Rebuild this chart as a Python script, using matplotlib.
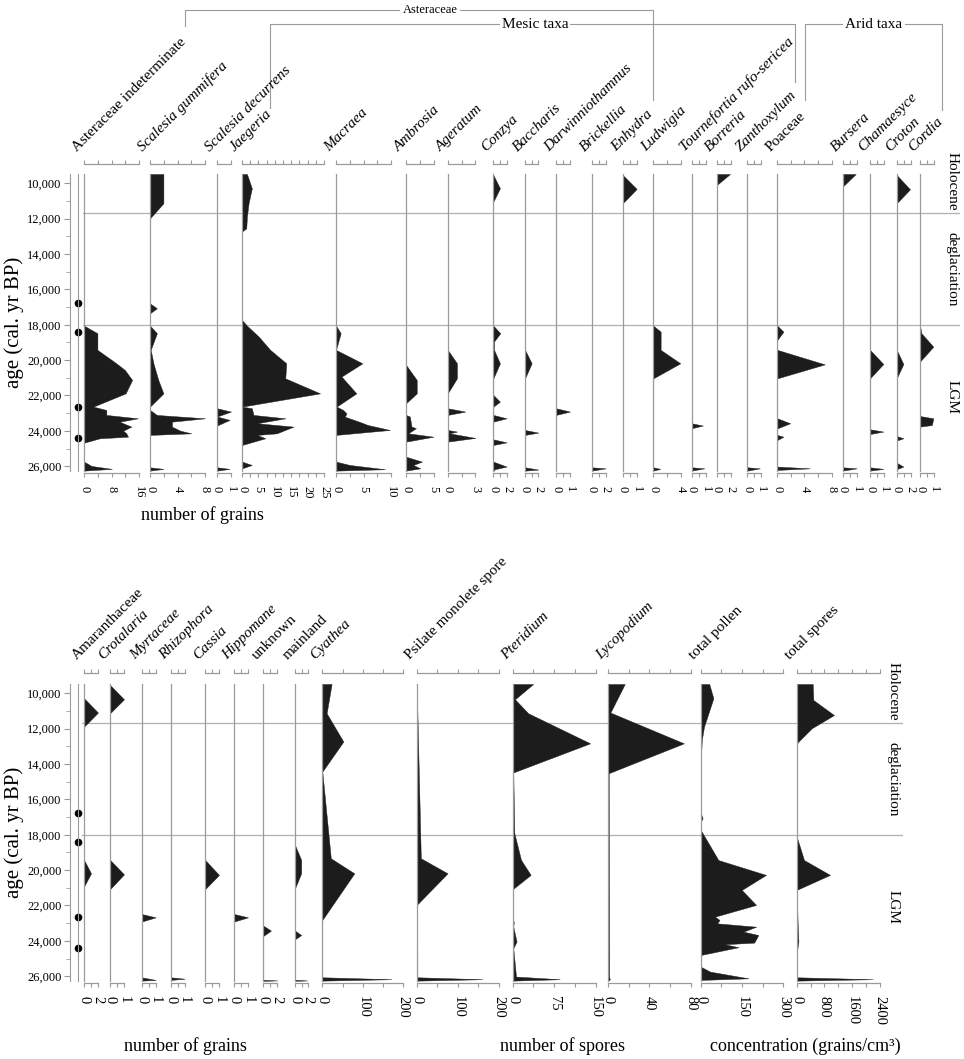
import matplotlib
matplotlib.use('Agg')
import matplotlib.pyplot as plt
import numpy as np

plt.rcParams['font.family'] = ['Liberation Serif', 'DejaVu Serif']

W, H = 964, 1059
fig = plt.figure(figsize=(W / 100, H / 100), dpi=100)

FILL = '#1c1c1c'
GRAY = '#9a9a9a'


def px(x, y, w, h):
    return [x / W, 1 - (y + h) / H, w / W, h / H]


# ---------------- data ----------------
AGE_TOP, AGE_BOT = 9475, 26270
zone_bounds = [11700, 18000]
zone_names = ['Holocene', 'deglaciation', 'LGM']
zone_label_ages = [9900, 14850, 22100]
dated_ages = [16780, 18420, 22630, 24400]
age_ticks = list(range(10000, 26001, 2000))
age_minor = list(range(9000, 26001, 1000))

# top panel taxa (age, count)
aster_indet = [(18050, 0), (18480, 3.9), (19420, 3.9), (20180, 9.4), (20560, 11.9), (21120, 14.0),
               (21880, 12.1), (22630, 2.7), (22820, 6.5), (23100, 6.5), (23290, 15.7), (23480, 10.4),
               (23570, 11.4), (23760, 13.8), (23990, 11.4), (24140, 12.3), (24330, 12.8), (24420, 4.6),
               (24670, 0), (25740, 0), (25985, 2.2), (26150, 8.1), (26250, 0)]
scalesia_gum = [(9475, 1.95), (11130, 1.95), (11980, 0), (16790, 0), (17070, 1.0), (17350, 0),
                (18050, 0), (18480, 1.0), (19420, 0.1), (20180, 0.5), (21120, 1.2), (21880, 1.95),
                (22630, 0), (22820, 0), (23100, 1.0), (23290, 8.0), (23480, 3.2), (23760, 3.2),
                (23990, 4.4), (24140, 6.0), (24230, 0), (26060, 0), (26150, 1.95), (26250, 0)]
scalesia_dec = [(22720, 0), (22910, 1.0), (23190, 0), (23380, 0.9), (23700, 0), (26060, 0),
                (26150, 0.9), (26250, 0)]
jaegeria = [(9475, 1.5), (10280, 3.0), (11130, 2.0), (11880, 1.5), (12550, 1.3), (12730, 0),
            (17730, 0), (18050, 1.5), (18670, 5.1), (19420, 8.6), (20180, 13.5), (21030, 13.2),
            (21880, 23.8), (22630, 0), (22720, 3.0), (23100, 3.5), (23290, 13.2), (23570, 4.6),
            (23760, 15.7), (24140, 10.6), (24230, 4.6), (24420, 7.1), (24800, 0), (25740, 0),
            (25930, 3.0), (26120, 0)]
macraea = [(18050, 0), (18480, 0.85), (19420, 0), (20180, 4.8), (20930, 1.0), (21880, 3.7),
           (22630, 0.1), (22820, 1.3), (23010, 1.9), (23200, 1.6), (23480, 4.2), (23670, 5.8),
           (23950, 9.8), (24230, 0), (25740, 0), (25930, 2.5), (26170, 8.9), (26250, 0)]
ambrosia = [(20270, 0), (21120, 1.95), (21880, 1.95), (22440, 0), (23100, 0), (23190, 0.7),
            (23760, 1.0), (23850, 1.8), (24140, 0.4), (24330, 5.0), (24610, 0), (25460, 0),
            (25740, 2.9), (25930, 1.3), (26120, 2.6), (26250, 0)]
ageratum = [(19420, 0), (20180, 1.0), (21030, 1.0), (21880, 0), (22720, 0), (22910, 1.9),
            (23100, 0), (23950, 0), (24040, 1.0), (24140, 0.2), (24400, 3.0), (24610, 0)]
conzya = [(9530, 0), (10280, 0.95), (11040, 0), (18050, 0), (18480, 1.0), (18950, 0.1),
          (19420, 0.1), (20180, 0.95), (21030, 0), (21970, 0), (22350, 0.95), (22630, 0),
          (23100, 0), (23290, 1.9), (23480, 0), (24480, 0), (24650, 1.9), (24800, 0),
          (25740, 0), (26020, 1.9), (26170, 0.2), (26250, 0)]
baccharis = [(19420, 0), (20180, 1.0), (21030, 0), (23950, 0), (24100, 2.0), (24230, 0),
             (26060, 0), (26190, 2.0), (26250, 0)]
darwiniothamnus = [(22720, 0), (22910, 1.0), (23100, 0)]
brickellia = [(26060, 0), (26120, 2.0), (26250, 0)]
enhydra = [(9530, 0), (10320, 0.95), (11130, 0)]
ludwigia = [(18050, 0), (18390, 1.06), (19420, 1.06), (20180, 3.9), (21030, 0), (26060, 0),
            (26150, 1.0), (26250, 0)]
tournefortia = [(23570, 0), (23700, 0.8), (23850, 0), (26060, 0), (26120, 0.9), (26250, 0)]
borreria = [(9475, 1.9), (10100, 0)]
zanthoxylum = [(26060, 0), (26120, 0.95), (26250, 0)]
poaceae = [(18050, 0), (18390, 0.9), (18860, 0), (19420, 0), (20240, 7.0), (21030, 0),
           (23290, 0), (23570, 1.9), (23860, 0), (24230, 0), (24330, 0.9), (24520, 0),
           (26020, 0), (26120, 4.8), (26210, 0)]
bursera = [(9475, 0.93), (10190, 0), (26060, 0), (26120, 1.0), (26250, 0)]
chamaesyce = [(19420, 0), (20220, 0.95), (21030, 0), (23910, 0), (24040, 0.95), (24180, 0),
              (26060, 0), (26150, 0.95), (26250, 0)]
croton = [(9530, 0), (10340, 1.9), (11130, 0), (19420, 0), (20220, 0.95), (21030, 0),
          (24290, 0), (24420, 0.95), (24550, 0), (25800, 0), (26020, 0.95), (26170, 0)]
cordia = [(18050, 0), (18480, 0.1), (19240, 0.95), (20080, 0), (23160, 0), (23290, 0.95),
          (23670, 0.85), (23760, 0)]

# bottom panel taxa (age, value)
amaranthaceae = [(10280, 0), (11090, 2.0), (11890, 0), (19420, 0), (20180, 1.0), (20930, 0)]
crotalaria = [(9530, 0), (10340, 1.0), (11130, 0), (19420, 0), (20240, 1.0), (21080, 0)]
myrtaceae = [(22480, 0), (22670, 1.0), (22910, 0), (26060, 0), (26210, 1.0), (26250, 0)]
rhizophora = [(26060, 0), (26140, 1.0), (26210, 0)]
cassia = [(19420, 0), (20270, 1.0), (21080, 0)]
hippomane = [(22480, 0), (22670, 1.0), (22910, 0)]
unknown = [(23140, 0), (23420, 1.1), (23720, 0), (26200, 0), (26240, 2.0), (26260, 0)]
mainland = [(18580, 0), (19420, 0.95), (20180, 0.95), (21030, 0), (23420, 0), (23670, 0.95),
            (23910, 0), (26200, 0), (26240, 1.9), (26260, 0)]
cyathea = [(9475, 23), (11130, 10.7), (12730, 52), (14430, 0), (19330, 21), (20180, 79),
           (22820, 0), (26060, 0), (26170, 171), (26250, 0)]
psilate = [(9475, 0), (19330, 10), (20180, 75), (21970, 0), (23900, 0), (24500, 1.5),
           (26060, 1.5), (26170, 160), (26250, 0)]
pteridium = [(9475, 37), (10340, 4), (11130, 28), (12830, 140), (14490, 0), (14500, 1),
             (17920, 3), (19420, 15), (20270, 32.5), (21080, 0), (22820, 0), (22910, 2),
             (23200, 1), (24040, 7), (24420, 1), (26020, 6), (26170, 85), (26250, 0)]
lycopodium = [(9475, 16), (11090, 2.0), (12830, 73.5), (14520, 0.4), (26020, 0.8),
              (26170, 1.5), (26250, 0)]
total_pollen = [(9475, 31), (10280, 46), (11130, 28), (11890, 12), (12640, 4), (13770, 0.5),
                (16790, 0.5), (17070, 7), (17260, 0), (17730, 0), (19430, 64), (20270, 237),
                (21120, 149), (21970, 201), (22630, 52), (22820, 68), (23010, 60), (23200, 201),
                (23480, 155), (23670, 209), (24100, 194), (24190, 88), (24360, 137), (24800, 0),
                (25460, 0), (25740, 34), (26120, 173), (26210, 0)]
total_spores = [(9475, 461), (10380, 480), (11230, 1075), (11980, 432), (12830, 0), (18110, 0),
                (19430, 211), (20270, 960), (21120, 0), (23200, 30), (24040, 50), (24420, 20),
                (24800, 0), (26060, 0), (26170, 2190), (26250, 0)]

# column layout: name, italic, data, x0(px), width(px), xmax, tick step, labelled ticks
top_cols = [
    ('Asteraceae indeterminate', False, aster_indet, 84, 55, 16, 4, [0, 8, 16]),
    ('Scalesia gummifera', True, scalesia_gum, 150, 55, 8, 2, [0, 4, 8]),
    ('Scalesia decurrens', True, scalesia_dec, 217, 14, 1, 1, [0, 1]),
    ('Jaegeria', True, jaegeria, 242, 82, 25, 2.5, [0, 5, 10, 15, 20, 25]),
    ('Macraea', True, macraea, 336, 55, 10, 2.5, [0, 5, 10]),
    ('Ambrosia', True, ambrosia, 406, 27.5, 5, 2.5, [0, 5]),
    ('Ageratum', True, ageratum, 447.7, 27.7, 3, 1.5, [0, 3]),
    ('Conzya', True, conzya, 493.3, 14, 2, 1, [0, 2]),
    ('Baccharis', True, baccharis, 525, 13.3, 2, 1, [0, 2]),
    ('Darwinniothamnus', True, darwiniothamnus, 556, 14, 1, 0.5, [0, 1]),
    ('Brickellia', True, brickellia, 591.7, 14, 2, 1, [0, 2]),
    ('Enhydra', True, enhydra, 622.7, 14.7, 1, 0.5, [0, 1]),
    ('Ludwigia', True, ludwigia, 653.3, 27.7, 4, 2, [0, 4]),
    ('Tournefortia rufo-sericea', True, tournefortia, 691.7, 14, 1, 0.5, [0, 1]),
    ('Borreria', True, borreria, 716.7, 14, 2, 1, [0, 2]),
    ('Zanthoxylum', True, zanthoxylum, 747.3, 13.3, 1, 0.5, [0, 1]),
    ('Poaceae', False, poaceae, 777.3, 54.3, 8, 2, [0, 4, 8]),
    ('Bursera', True, bursera, 842.7, 14, 1, 0.5, [0, 1]),
    ('Chamaesyce', True, chamaesyce, 870, 14, 1, 0.5, [0, 1]),
    ('Croton', True, croton, 896.7, 14, 2, 1, [0, 2]),
    ('Cordia', True, cordia, 920, 14, 1, 0.5, [0, 1]),
]
bottom_cols = [
    ('Amaranthaceae', False, amaranthaceae, 84, 14, 2, 1, [0, 2]),
    ('Crotalaria', True, crotalaria, 110, 14, 1, 0.5, [0, 1]),
    ('Myrtaceae', True, myrtaceae, 141.7, 14, 1, 0.5, [0, 1]),
    ('Rhizophora', True, rhizophora, 170.7, 14, 1, 0.5, [0, 1]),
    ('Cassia', True, cassia, 205, 14, 1, 0.5, [0, 1]),
    ('Hippomane', True, hippomane, 234, 14, 1, 0.5, [0, 1]),
    ('unknown', False, unknown, 263.3, 14, 2, 1, [0, 2]),
    ('mainland', False, mainland, 295, 13, 2, 1, [0, 2]),
    ('Cyathea', True, cyathea, 322.3, 81, 200, 50, [0, 100, 200]),
    ('Psilate monolete spore', False, psilate, 416.7, 82.3, 200, 50, [0, 100, 200]),
    ('Pteridium', True, pteridium, 512.7, 83, 150, 37.5, [0, 75, 150]),
    ('Lycopodium', True, lycopodium, 608.3, 82.3, 80, 20, [0, 40, 80]),
    ('total pollen', False, total_pollen, 700.7, 82.7, 300, 75, [0, 150, 300]),
    ('total spores', False, total_spores, 796.7, 83.3, 2400, 400, [0, 800, 1600, 2400]),
]

# ---------------- overlay for group brackets ----------------
ov = fig.add_axes([0, 0, 1, 1])
ov.set_xlim(0, W)
ov.set_ylim(H, 0)
ov.axis('off')
ov.set_facecolor('none')
lkw = dict(color=GRAY, lw=0.8)
ov.plot([185, 185, 653, 653], [26, 10, 10, 100], **lkw)
ov.plot([270, 270, 795, 795], [108, 24, 24, 82], **lkw)
ov.plot([805, 805, 942, 942], [100, 24, 24, 110], **lkw)
bb = dict(fc='white', ec='none', pad=1.5)
ov.text(430, 10, 'Asteraceae', ha='center', va='center', fontsize=9, bbox=bb)
ov.text(535, 24, 'Mesic taxa', ha='center', va='center', fontsize=11, bbox=bb)
ov.text(874, 24, 'Arid taxa', ha='center', va='center', fontsize=11, bbox=bb)


def fmt(v):
    return str(int(v)) if float(v).is_integer() else str(v)


def panel(cols, y_top, h, top_off_px, tick_fs, tick_pad, label_y, zone_x0, zone_x1, zone_text_x):
    # zone lines + labels
    zax = fig.add_axes(px(zone_x0, y_top, zone_x1 - zone_x0, h))
    zax.set_xlim(0, 1)
    zax.set_ylim(AGE_BOT, AGE_TOP)
    zax.axis('off')
    zax.set_facecolor('none')
    for b in zone_bounds:
        zax.axhline(b, color='#b0b0b0', lw=0.9)
    tx = (zone_text_x - zone_x0) / (zone_x1 - zone_x0)
    for name, a in zip(zone_names, zone_label_ages):
        zax.text(tx, a, name, rotation=-90, ha='center', va='center', fontsize=11)

    # age axis
    aax = fig.add_axes(px(70, y_top, 1, h))
    aax.set_facecolor('none')
    aax.set_ylim(AGE_BOT, AGE_TOP)
    aax.set_xticks([])
    for s in ['top', 'right', 'bottom']:
        aax.spines[s].set_visible(False)
    aax.spines['left'].set_color(GRAY)
    aax.set_yticks(age_ticks)
    aax.set_yticks(age_minor, minor=True)
    aax.set_yticklabels([f'{t:,}' for t in age_ticks], fontsize=9)
    aax.tick_params(axis='y', which='major', length=4, color=GRAY, pad=2)
    aax.tick_params(axis='y', which='minor', length=3, color=GRAY)
    aax.set_ylim(AGE_BOT, AGE_TOP)
    fig.text(14 / W, 1 - (y_top + h / 2) / H, 'age (cal. yr BP)', rotation=90,
             ha='center', va='center', fontsize=15)

    # dated levels
    dax = fig.add_axes(px(78, y_top, 1, h))
    dax.set_facecolor('none')
    dax.set_ylim(AGE_BOT, AGE_TOP)
    dax.set_xlim(0, 1)
    dax.set_xticks([])
    dax.set_yticks([])
    for s in ['top', 'right', 'bottom']:
        dax.spines[s].set_visible(False)
    dax.spines['left'].set_color(GRAY)
    dax.plot([0] * len(dated_ages), dated_ages, 'o', ms=4.5, color='black', clip_on=False)

    for name, ital, data, x0, w, xmax, step, labels in cols:
        ax = fig.add_axes(px(x0, y_top, w, h))
        ax.set_facecolor('none')
        ages = [a for a, v in data]
        vals = [v for a, v in data]
        ax.fill_betweenx(ages, 0, vals, color=FILL, lw=0.3, edgecolor=FILL)
        ax.set_xlim(0, xmax)
        ax.set_ylim(AGE_BOT, AGE_TOP)
        ax.spines['right'].set_visible(False)
        for s in ['left', 'top', 'bottom']:
            ax.spines[s].set_color(GRAY)
            ax.spines[s].set_linewidth(0.9)
        ax.spines['top'].set_position(('outward', top_off_px * 0.72))
        ax.spines['bottom'].set_position(('outward', 1.5))
        ticks = np.arange(0, xmax + step / 2, step)
        ax.set_xticks(ticks)
        ax.set_xticklabels([fmt(t) if any(np.isclose(t, l) for l in labels) else '' for t in ticks],
                           rotation=-90, fontsize=tick_fs)
        ax.tick_params(axis='x', top=True, bottom=True, direction='out', length=3,
                       color=GRAY, width=0.8, pad=tick_pad)
        ax.set_yticks([])
        fig.text((x0 - 7) / W, 1 - label_y / H, name, rotation=45, ha='left', va='baseline',
                 rotation_mode='anchor', fontsize=11, style='italic' if ital else 'normal')


panel(top_cols, 174, 297, 10, 9, 6, 152, 83, 960, 952)
panel(bottom_cols, 684, 297, 11, 10.5, 6.5, 660, 82, 903, 893)

fig.text(202 / W, 1 - 515 / H, 'number of grains', ha='center', va='center', fontsize=13)
fig.text(185 / W, 1 - 1046 / H, 'number of grains', ha='center', va='center', fontsize=13)
fig.text(562 / W, 1 - 1046 / H, 'number of spores', ha='center', va='center', fontsize=13)
fig.text(805 / W, 1 - 1046 / H, 'concentration (grains/cm³)', ha='center', va='center', fontsize=13)

fig.savefig('out.png', dpi=100)
